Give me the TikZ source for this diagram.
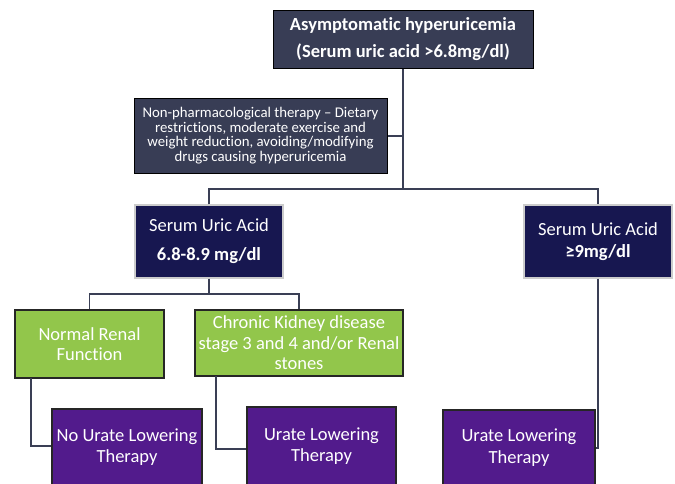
\documentclass[tikz,border=0pt]{standalone}
\usepackage{fontspec}
\setmainfont[RawFeature=-liga]{Carlito}
\definecolor{slate}{HTML}{383D55}
\definecolor{navy}{HTML}{171750}
\definecolor{leaf}{HTML}{92C64B}
\definecolor{grape}{HTML}{521B8C}
\definecolor{wire}{HTML}{3A3F55}
\tikzset{
  box/.style={rectangle, inner sep=0pt, align=center, text=white},
  slatebox/.style={box, fill=slate, draw=black, line width=1pt},
  navybox/.style={box, fill=navy, draw=gray!40, line width=1.2pt},
  leafbox/.style={box, fill=leaf, draw=black!85, line width=1.5pt},
  grapebox/.style={box, fill=grape, draw=black!85, line width=1.5pt},
  wire/.style={draw=wire, line width=1.5pt},
}
\begin{document}
\begin{tikzpicture}[x=1pt,y=-1pt]
\clip (0,0) rectangle (675,483);
\fill[white] (0,0) rectangle (675,483);
% boxes
\node[slatebox, minimum width=260pt, minimum height=58pt,
  font=\fontsize{18.5}{27}\selectfont\bfseries] (top) at (403,39)
  {Asymptomatic hyperuricemia\\(Serum uric acid >6.8mg/dl)};
\node[slatebox, minimum width=253pt, minimum height=75pt,
  font=\fontsize{14.8}{14.6}\selectfont] (np) at (260.5,135.5)
  {Non-pharmacological therapy – Dietary\\restrictions, moderate exercise and\\weight reduction, avoiding/modifying\\drugs causing hyperuricemia};
\node[navybox, minimum width=148pt, minimum height=73pt,
  font=\fontsize{18.5}{29}\selectfont] (s1) at (209,241.5)
  {Serum Uric Acid\\\textbf{6.8-8.9 mg/dl}};
\node[navybox, minimum width=148pt, minimum height=73pt,
  font=\fontsize{18.5}{22}\selectfont] (s2) at (598,241.5)
  {Serum Uric Acid\\\textbf{≥9mg/dl}};
\node[leafbox, minimum width=149pt, minimum height=68pt,
  font=\fontsize{18.5}{20.5}\selectfont] (g1) at (89.5,344)
  {Normal Renal\\Function};
\node[leafbox, minimum width=208pt, minimum height=66pt,
  font=\fontsize{18.5}{20.5}\selectfont] (g2) at (299,343)
  {Chronic Kidney disease\\stage 3 and 4 and/or Renal\\stones};
\node[grapebox, minimum width=150pt, minimum height=76pt,
  font=\fontsize{18.5}{20.5}\selectfont] (p1) at (127,447)
  {No Urate Lowering\\Therapy};
\node[grapebox, minimum width=149pt, minimum height=78pt,
  font=\fontsize{18.5}{20.5}\selectfont] (p2) at (321.5,446)
  {Urate Lowering\\Therapy};
\node[grapebox, minimum width=152pt, minimum height=75pt,
  font=\fontsize{18.5}{21.5}\selectfont] (p3) at (519,447.5)
  {Urate Lowering\\Therapy};
% junction coordinates
\coordinate (j1) at (403,189);
\coordinate (j2) at (209,294);
% connectors
\draw[wire] (top.south) -- (j1);
\draw[wire] (np.east |- 0,136) -- (403,136);
\draw[wire] (s1.north) -- (209,189) -- (598,189) -- (s2.north);
\draw[wire] (s1.south) -- (j2);
\draw[wire] (g1.north) -- (89.5,294) -- (299,294) -- (g2.north);
\draw[wire] (31,378) -- (31,446) -- (p1.west |- 0,446);
\draw[wire] (216,376) -- (216,449) -- (p2.west |- 0,449);
\draw[wire] (s2.south) -- (598,448) -- (p3.east |- 0,448);
\end{tikzpicture}
\end{document}
